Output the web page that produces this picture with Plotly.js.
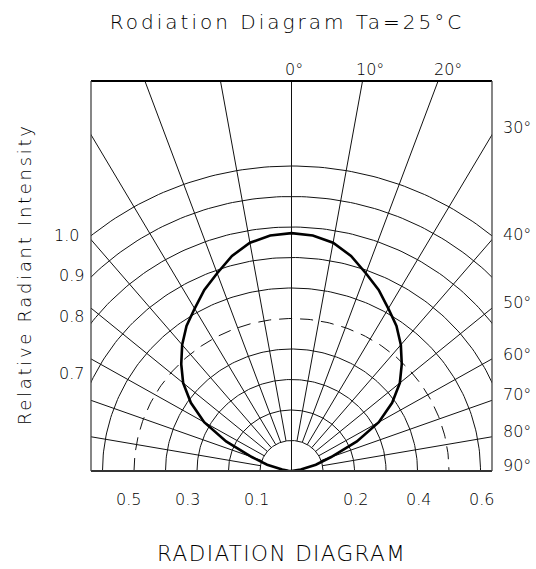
<!DOCTYPE html>
<html>
<head>
<meta charset="utf-8">
<script src="https://cdn.plot.ly/plotly-3.0.1.min.js"></script>
<style>
  html, body { margin: 0; padding: 0; background: #ffffff; }
  #chart { width: 536px; height: 569px; }
  .gtitle { letter-spacing: 3px; }
  g.annotation[data-index="0"] text { letter-spacing: 2.7px; }
  g.annotation[data-index="1"] text { letter-spacing: 1.4px; }
</style>
</head>
<body>
<div id="chart"></div>
<script>
// ---------------- data ----------------
const chartTitle = 'Rodiation Diagram Ta=25°C';
const xTitle = 'RADIATION DIAGRAM';
const yTitle = 'Relative Radiant Intensity';

// radiation pattern (angle in degrees, relative radius)
const angleDeg = [-90, -85, -80, -75, -70, -65, -60, -55, -50, -45, -40, -35, -30, -25, -20, -15, -10, -5,
                  0, 5, 10, 15, 20, 25, 30, 35, 40, 45, 50, 55, 60, 65, 70, 75, 80, 85, 90];
const relIntensity = [0, 0.01, 0.03, 0.08, 0.134, 0.229, 0.32, 0.39, 0.449, 0.495, 0.54, 0.581, 0.615, 0.655, 0.69, 0.73, 0.76, 0.775,
                      0.78, 0.775, 0.76, 0.73, 0.69, 0.655, 0.615, 0.581, 0.54, 0.495, 0.449, 0.39, 0.32, 0.229, 0.134, 0.08, 0.03, 0.01, 0];

// polar grid
const ringLevels = [0.1, 0.2, 0.3, 0.4, 0.6, 0.7, 0.8, 0.9, 1.0];
const halfLevel = [0.5];
const spokeAngles = [-90, -80, -70, -60, -50, -40, -30, -20, -10, 0, 10, 20, 30, 40, 50, 60, 70, 80, 90];

// tick labels
const leftTickLabels = ['1.0', '0.9', '0.8', '0.7'];
const bottomTickLabels = ['0.5', '0.3', '0.1', '0.2', '0.4', '0.6'];
const rightTickLabels = ['30°', '40°', '50°', '60°', '70°', '80°', '90°'];
const topTickLabels = ['0°', '10°', '20°'];

// ---------------- layout geometry (pixels) ----------------
const W = 536, H = 569;
const PL = 91, PR = 492, PT = 81, PB = 471;
const xHalf = 0.6365;
const yMax = 1.2787;

function px2paperX(px) { return (px - PL) / (PR - PL); }
function px2paperY(py) { return (PB - py) / (PB - PT); }

const leftLabelPos = [[81, 235.5], [86, 275], [86, 316.7], [86, 373]];
const bottomLabelX = [128, 187, 256, 355, 418, 481];
const bottomLabelY = 499;
const rightLabelX = 501;
const rightLabelY = [127.5, 234, 302, 354, 394, 431, 465];
const topLabelX = [294, 370, 448];
const topLabelY = 69;

// ---------------- build traces ----------------
const rad = d => d * Math.PI / 180;

function arcs(levels) {
  const xs = [], ys = [];
  levels.forEach(r => {
    for (let a = -90; a <= 90; a += 1) {
      xs.push(r * Math.sin(rad(a)));
      ys.push(r * Math.cos(rad(a)));
    }
    xs.push(null); ys.push(null);
  });
  return {xs, ys};
}

const ringPts = arcs(ringLevels);
const halfPts = arcs(halfLevel);

const spX = [], spY = [];
spokeAngles.forEach(a => {
  const r0 = (a === 0) ? 0 : 0.1;
  const r1 = 3;
  spX.push(r0 * Math.sin(rad(a)), r1 * Math.sin(rad(a)), null);
  spY.push(r0 * Math.cos(rad(a)), r1 * Math.cos(rad(a)), null);
});

const curveX = angleDeg.map((a, i) => relIntensity[i] * Math.sin(rad(a)));
const curveY = angleDeg.map((a, i) => relIntensity[i] * Math.cos(rad(a)));

const gridColor = '#111111';
const traces = [
  {x: ringPts.xs, y: ringPts.ys, type: 'scatter', mode: 'lines',
   line: {color: gridColor, width: 1}, hoverinfo: 'skip', showlegend: false},
  {x: halfPts.xs, y: halfPts.ys, type: 'scatter', mode: 'lines',
   line: {color: gridColor, width: 1, dash: '13px,8px'}, hoverinfo: 'skip', showlegend: false},
  {x: spX, y: spY, type: 'scatter', mode: 'lines',
   line: {color: gridColor, width: 1}, hoverinfo: 'skip', showlegend: false},
  {x: curveX, y: curveY, type: 'scatter', mode: 'lines',
   line: {color: '#000000', width: 2.6, shape: 'linear'}, hoverinfo: 'skip', showlegend: false}
];

// ---------------- annotations ----------------
const FONT = 'DejaVu Sans, Liberation Sans, sans-serif';
const TXT = '#000000';
const ann = [];

ann.push({text: yTitle, xref: 'paper', yref: 'paper', x: px2paperX(24), y: px2paperY(275),
          xanchor: 'center', yanchor: 'middle', textangle: -90, showarrow: false,
          font: {family: FONT, size: 18, color: TXT, weight: 200}});
ann.push({text: xTitle, xref: 'paper', yref: 'paper', x: px2paperX(281), y: px2paperY(553.5),
          xanchor: 'center', yanchor: 'middle', showarrow: false,
          font: {family: FONT, size: 21.5, color: TXT, weight: 200}});

leftTickLabels.forEach((t, i) => ann.push({
  text: t, xref: 'paper', yref: 'paper', x: px2paperX(leftLabelPos[i][0]), y: px2paperY(leftLabelPos[i][1]),
  xanchor: 'right', yanchor: 'middle', showarrow: false, font: {family: FONT, size: 16, color: TXT, weight: 200}}));
bottomTickLabels.forEach((t, i) => ann.push({
  text: t, xref: 'paper', yref: 'paper', x: px2paperX(bottomLabelX[i]), y: px2paperY(bottomLabelY),
  xanchor: 'center', yanchor: 'middle', showarrow: false, font: {family: FONT, size: 16, color: TXT, weight: 200}}));
rightTickLabels.forEach((t, i) => ann.push({
  text: t, xref: 'paper', yref: 'paper', x: px2paperX(rightLabelX), y: px2paperY(rightLabelY[i]),
  xanchor: 'left', yanchor: 'middle', showarrow: false, font: {family: FONT, size: 16, color: TXT, weight: 200}}));
topTickLabels.forEach((t, i) => ann.push({
  text: t, xref: 'paper', yref: 'paper', x: px2paperX(topLabelX[i]), y: px2paperY(topLabelY),
  xanchor: 'center', yanchor: 'middle', showarrow: false, font: {family: FONT, size: 16, color: TXT, weight: 200}}));

// ---------------- frame ----------------
const shapes = [
  {type: 'line', xref: 'paper', yref: 'paper', x0: 0, x1: 1, y0: 0, y1: 0, line: {color: '#333333', width: 2}, layer: 'above'},
  {type: 'line', xref: 'paper', yref: 'paper', x0: 0, x1: 1, y0: 1, y1: 1, line: {color: '#000000', width: 2}, layer: 'above'},
  {type: 'line', xref: 'paper', yref: 'paper', x0: 0, x1: 0, y0: 0, y1: 1, line: {color: '#444444', width: 1.3}, layer: 'above'},
  {type: 'line', xref: 'paper', yref: 'paper', x0: 1, x1: 1, y0: 0, y1: 1, line: {color: '#444444', width: 1.3}, layer: 'above'}
];

const layout = {
  width: W, height: H,
  margin: {l: PL, r: W - PR, t: PT, b: H - PB, pad: 0},
  paper_bgcolor: '#ffffff', plot_bgcolor: '#ffffff',
  title: {text: chartTitle, x: 287 / W, y: 1 - 21.5 / H, xref: 'container', yref: 'container',
          xanchor: 'center', yanchor: 'middle',
          font: {family: FONT, size: 20, color: TXT, weight: 200}},
  xaxis: {range: [-xHalf, xHalf], autorange: false, showgrid: false, zeroline: false,
          showticklabels: false, ticks: '', showline: false, fixedrange: true},
  yaxis: {range: [0, yMax], autorange: false, showgrid: false, zeroline: false,
          showticklabels: false, ticks: '', showline: false, fixedrange: true},
  annotations: ann,
  shapes: shapes,
  showlegend: false,
  hovermode: false
};

Plotly.newPlot('chart', traces, layout, {displayModeBar: false, staticPlot: true});
</script>
</body>
</html>
